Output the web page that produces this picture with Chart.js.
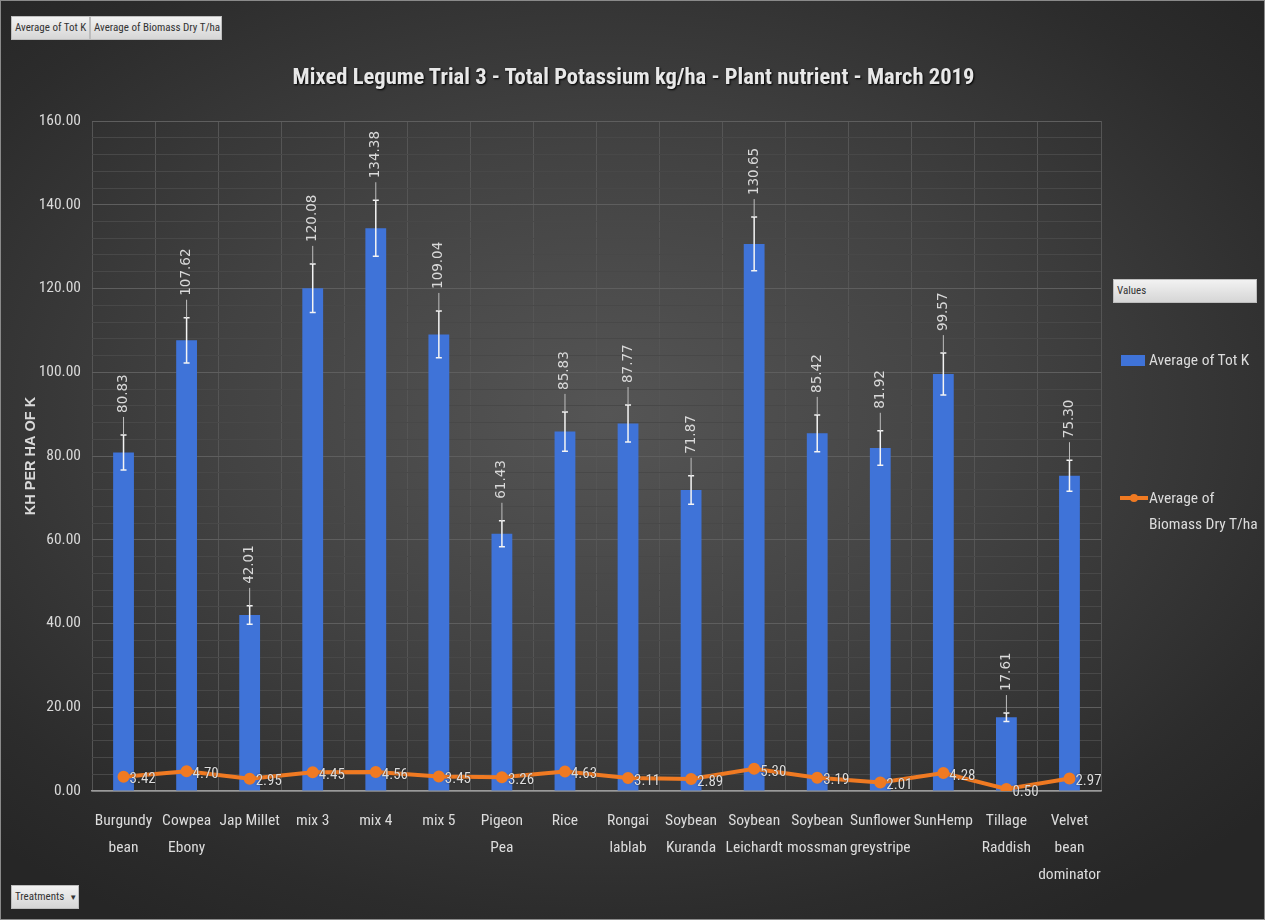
<!DOCTYPE html>
<html><head><meta charset="utf-8">
<script src="https://cdn.jsdelivr.net/npm/chart.js@4.4.1/dist/chart.umd.min.js"></script>
<style>
html,body{margin:0;padding:0;}
body{width:1265px;height:920px;overflow:hidden;}
#wrap{position:relative;width:1263px;height:918px;border:1px solid #8a8a8a;
 background:radial-gradient(ellipse 70% 65% at 48% 45%, #555555 0%, #424242 45%, #2c2c2c 85%, #262626 100%);}
canvas{position:absolute;left:0;top:0;}
.btn{position:absolute;background:linear-gradient(#f2f2f2,#d6d6d6);border:1px solid #bdbdbd;color:#333;
 font-family:"Roboto Condensed","Liberation Sans Narrow","Liberation Sans",sans-serif;font-size:11px;line-height:22px;padding:0 3px;box-sizing:border-box;height:24px;white-space:nowrap;}
.title{position:absolute;left:0;width:1265px;top:62px;text-align:center;color:#e8e8e8;font-weight:bold;
 font-family:"Roboto Condensed","Liberation Sans Narrow",sans-serif;font-size:22.6px;text-shadow:1px 1px 2px #000;}
.leg{position:absolute;color:#dcdcdc;font-family:"Roboto Condensed","Liberation Sans Narrow",sans-serif;font-size:15.5px;line-height:26px;}
</style></head>
<body><div id="wrap">
<canvas id="c" width="1265" height="920"></canvas>
<div class="title">Mixed Legume Trial 3 - Total Potassium kg/ha - Plant nutrient - March 2019</div>
<div class="btn" style="left:10px;top:15px;width:79px;">Average of Tot K</div>
<div class="btn" style="left:89px;top:15px;width:132px;">Average of Biomass Dry T/ha</div>
<div class="btn" style="left:1112px;top:278px;width:144px;">Values</div>
<div class="btn" style="left:10px;top:884px;width:68px;">Treatments &nbsp;<span style="font-size:8px">▼</span></div>
<div style="position:absolute;left:1120px;top:354px;width:24px;height:11px;background:#3f73d8;"></div>
<div class="leg" style="left:1148px;top:346px;">Average of Tot K</div>
<div style="position:absolute;left:1119px;top:495px;width:28px;height:4px;background:#f07a22;"></div>
<div style="position:absolute;left:1129px;top:493px;width:8px;height:8px;border-radius:4px;background:#f07a22;"></div>
<div class="leg" style="left:1148px;top:484px;">Average of<br>Biomass Dry T/ha</div>
</div>
<script>
const categories = [["Burgundy","bean"],["Cowpea","Ebony"],["Jap Millet"],["mix 3"],["mix 4"],["mix 5"],["Pigeon","Pea"],["Rice"],["Rongai","lablab"],["Soybean","Kuranda"],["Soybean","Leichardt"],["Soybean","mossman"],["Sunflower","greystripe"],["SunHemp"],["Tillage","Raddish"],["Velvet","bean","dominator"]];
const totK = [80.83,107.62,42.01,120.08,134.38,109.04,61.43,85.83,87.77,71.87,130.65,85.42,81.92,99.57,17.61,75.30];
const totKErr = [4.2,5.4,2.2,5.8,6.7,5.6,3.1,4.7,4.4,3.4,6.4,4.4,4.1,5.0,1.0,3.7];
const biomass = [3.42,4.70,2.95,4.45,4.56,3.45,3.26,4.63,3.11,2.89,5.30,3.19,2.01,4.28,0.50,2.97];
const yMin = 0, yMax = 160, yMinorStep = 4, yMajorStep = 20;
const yTitle = "KH PER HA OF K";

const NARROW = '"Roboto Condensed","Liberation Sans Narrow","Liberation Sans",sans-serif';

const overlay = {
  id:'overlay',
  afterDatasetDraw(chart, args){
    if(args.index!==0) return;
    const ctx=chart.ctx, y=chart.scales.y, meta=chart.getDatasetMeta(0);
    ctx.save();
    meta.data.forEach((bar,i)=>{
      const x=bar.x, top=y.getPixelForValue(totK[i]+totKErr[i]), bot=y.getPixelForValue(totK[i]-totKErr[i]);
      ctx.strokeStyle='#f4f4f4'; ctx.lineWidth=1.5;
      ctx.beginPath(); ctx.moveTo(x,top); ctx.lineTo(x,bot);
      ctx.moveTo(x-3,top); ctx.lineTo(x+3,top);
      ctx.moveTo(x-3,bot); ctx.lineTo(x+3,bot); ctx.stroke();
      ctx.strokeStyle='#bfbfbf'; ctx.lineWidth=1;
      ctx.beginPath(); ctx.moveTo(x,top); ctx.lineTo(x,top-18); ctx.stroke();
      ctx.save(); ctx.translate(x,top-22); ctx.rotate(-Math.PI/2);
      ctx.fillStyle='#d9d9d9'; ctx.font='13.5px "DejaVu Sans",sans-serif';
      ctx.textAlign='left'; ctx.textBaseline='middle';
      ctx.fillText(totK[i].toFixed(2),0,0); ctx.restore();
    });
    ctx.restore();
  },
  afterDatasetsDraw(chart){
    const ctx=chart.ctx, meta=chart.getDatasetMeta(1);
    ctx.save();
    ctx.fillStyle='#dcdcdc'; ctx.font='15px '+NARROW; ctx.textAlign='left'; ctx.textBaseline='middle';
    ctx.shadowColor='rgba(0,0,0,0.6)'; ctx.shadowBlur=2;
    meta.data.forEach((p,i)=>{ ctx.fillText(biomass[i].toFixed(2),p.x+6,p.y+3); });
    ctx.restore();
  }
};

new Chart(document.getElementById('c'),{
  data:{labels:categories,datasets:[
    {type:'bar',label:'Average of Tot K',data:totK,backgroundColor:'#3f73d8',barPercentage:0.33,categoryPercentage:1,order:2},
    {type:'line',label:'Average of Biomass Dry T/ha',data:biomass,borderColor:'#f07a22',backgroundColor:'#f07a22',borderWidth:4,pointRadius:4,pointHoverRadius:4,tension:0,order:1}
  ]},
  options:{
    responsive:false,animation:false,
    layout:{padding:{left:21,right:165,top:120,bottom:0}},
    plugins:{legend:{display:false},title:{display:false},tooltip:{enabled:false}},
    scales:{
      x:{grid:{color:'#555555',offset:true,drawTicks:false},border:{color:'#9a9a9a',width:1.5},
        ticks:{color:'#dcdcdc',font:{family:NARROW,size:15.5,lineHeight:1.72},padding:17,maxRotation:0,autoSkip:false},
        afterFit(s){s.height=130;}},
      y:{min:yMin,max:yMax,
        grid:{drawTicks:false,color:(c)=> (c.tick && c.tick.value%yMajorStep===0)?'#5e5e5e':'#484848'},
        border:{display:false},
        ticks:{stepSize:yMinorStep,autoSkip:false,padding:11,color:'#d9d9d9',font:{family:NARROW,size:15.5},
          callback:(v)=> v%yMajorStep===0? v.toFixed(2):''},
        title:{display:true,text:yTitle,color:'#d9d9d9',font:{family:'"Liberation Sans","Open Sans",sans-serif',size:14.5,weight:'bold'},padding:{top:0,bottom:4}},
        afterFit(s){s.width=70;}}
    }
  },
  plugins:[overlay]
});
</script>
</body></html>
